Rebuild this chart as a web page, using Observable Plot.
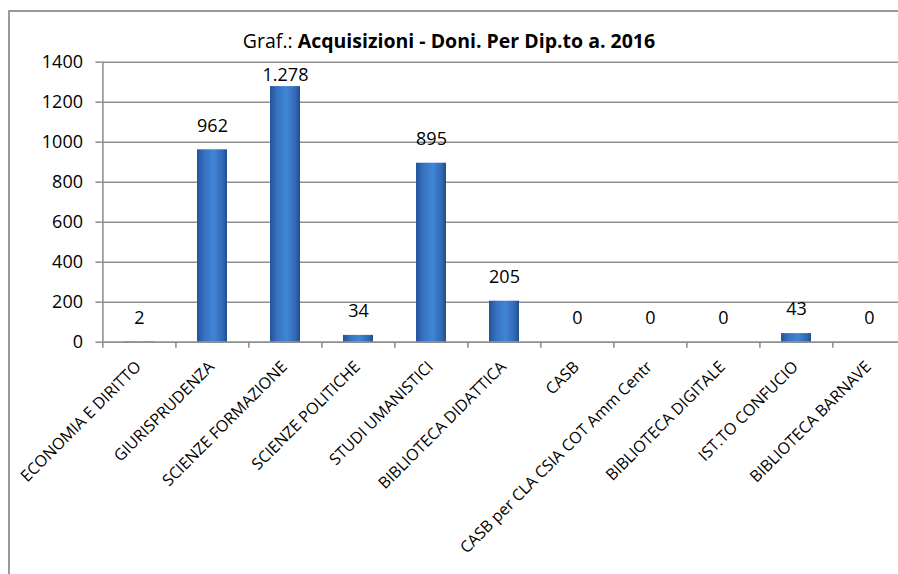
<!DOCTYPE html>
<html>
<head>
<meta charset="utf-8">
<script src="https://cdn.jsdelivr.net/npm/d3@7"></script>
<script src="https://cdn.jsdelivr.net/npm/@observablehq/plot@0.6"></script>
<style>
  html, body { margin: 0; padding: 0; background: #fff; overflow: hidden; scrollbar-width: none; }
  ::-webkit-scrollbar { display: none; width: 0; height: 0; }
  #wrap { position: relative; width: 898px; height: 574px; overflow: hidden; font-family: "Open Sans", sans-serif; }
  #frame { position: absolute; left: 8px; top: 10px; width: 1000px; height: 700px; border-left: 2px solid #9a9a9a; border-top: 2px solid #9a9a9a; box-sizing: border-box; }
  #title { position: absolute; left: 0; width: 898px; top: 27px; text-align: center; font-size: 19.5px; color: #000; line-height: normal; }
  #chart { position: absolute; left: 0; top: 0; width: 898px; height: 574px; }
  #chart svg { max-width: none; }
</style>
</head>
<body>
<div id="wrap">
  <div id="frame"></div>
  <div id="chart"></div>
  <div id="title">Graf.: <b>Acquisizioni - Doni. Per Dip.to a. 2016</b></div>
</div>
<script>
const categories = [
  "ECONOMIA E DIRITTO",
  "GIURISPRUDENZA",
  "SCIENZE FORMAZIONE",
  "SCIENZE POLITICHE",
  "STUDI UMANISTICI",
  "BIBLIOTECA DIDATTICA",
  "CASB",
  "CASB per CLA CSIA COT Amm Centr",
  "BIBLIOTECA DIGITALE",
  "IST.TO CONFUCIO",
  "BIBLIOTECA BARNAVE"
];
const values = [2, 962, 1278, 34, 895, 205, 0, 0, 0, 43, 0];
const yTicks = [0, 200, 400, 600, 800, 1000, 1200, 1400];

const data = categories.map((c, i) => ({cat: c, v: values[i]}));
const itFormat = d3.formatLocale({decimal: ",", thousands: ".", grouping: [3], currency: ["", "€"]}).format(",d");

const W = 898, H = 574;
const mL = 101.5, mR = -9, mT = 61.7, mB = H - 341.7;
const step = (W - mL - mR) / categories.length;

const defs = () => {
  const d = d3.create("svg:defs");
  const g = d.append("linearGradient").attr("id", "barGrad").attr("x1", "0").attr("x2", "1").attr("y1", "0").attr("y2", "0");
  g.append("stop").attr("offset", "0%").attr("stop-color", "#23549a");
  g.append("stop").attr("offset", "25%").attr("stop-color", "#3773c2");
  g.append("stop").attr("offset", "55%").attr("stop-color", "#4185d6");
  g.append("stop").attr("offset", "85%").attr("stop-color", "#3169b4");
  g.append("stop").attr("offset", "100%").attr("stop-color", "#1f4d8f");
  const t = d.append("linearGradient").attr("id", "topGrad").attr("x1", "0").attr("x2", "1").attr("y1", "0").attr("y2", "0");
  t.append("stop").attr("offset", "0%").attr("stop-color", "#4a8ad6");
  t.append("stop").attr("offset", "50%").attr("stop-color", "#7db4ee");
  t.append("stop").attr("offset", "100%").attr("stop-color", "#4a8ad6");
  return d.node();
};

const chart = Plot.plot({
  width: W,
  height: H,
  marginLeft: mL,
  marginRight: mR,
  marginTop: mT,
  marginBottom: mB,
  style: {fontFamily: "'Open Sans', sans-serif", fontSize: "18px", color: "#000", background: "transparent", maxWidth: "none", overflow: "visible"},
  x: {domain: categories, paddingInner: 0.59, paddingOuter: 0.295, label: null},
  y: {domain: [0, 1400], label: null},
  marks: [
    defs,
    Plot.gridY(yTicks, {stroke: "#8f8f8f", strokeOpacity: 1, strokeWidth: 1.6}),
    Plot.barY(data, {x: "cat", y: "v", fill: "url(#barGrad)"}),
    Plot.tickY(data.filter(d => d.v > 5), {x: "cat", y: "v", stroke: "url(#topGrad)", strokeWidth: 6, dy: 3}),
    Plot.text(data.filter(d => d.v < 1200), {x: "cat", y: "v", text: d => itFormat(d.v), dy: -24, fontSize: 18, fill: "#000"}),
    Plot.text(data.filter(d => d.v >= 1200), {x: "cat", y: "v", text: d => itFormat(d.v), dy: -11, fontSize: 18, fill: "#000"}),
    Plot.ruleY([0], {stroke: "#8f8f8f", strokeWidth: 1.6}),
    Plot.ruleX([0], {x: () => categories[0], dx: -step / 2, y1: 0, y2: 1400, stroke: "#8f8f8f", strokeWidth: 1.6}),
    Plot.axisY({ticks: yTicks, tickFormat: d3.format("d"), tickSize: 6, tickPadding: 13, fontSize: 18, stroke: "#8f8f8f", strokeWidth: 1.6, fill: "#000"}),
    Plot.axisX({tickSize: 6, tickFormat: () => "", dx: -step / 2, stroke: "#8f8f8f", strokeWidth: 1.6}),
    Plot.axisX({tickSize: 0, tickPadding: 22, tickRotate: -45, fontSize: 16, dx: -1, fill: "#000"})
  ]
});
document.getElementById("chart").appendChild(chart);
</script>
</body>
</html>
